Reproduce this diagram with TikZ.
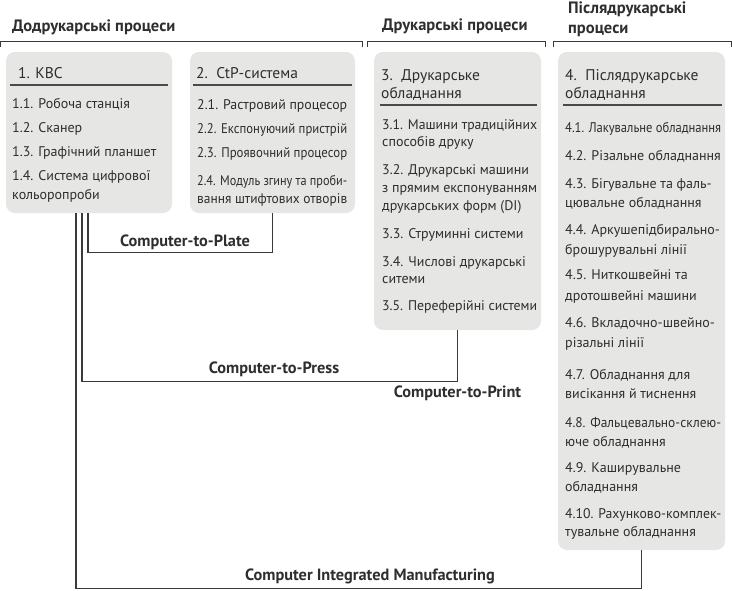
\documentclass[tikz,border=0pt]{standalone}
\usepackage{fontspec}
\setmainfont{PT Sans}
\definecolor{boxfill}{HTML}{E6E6E5}
\definecolor{txt}{HTML}{2E2E2E}
\definecolor{linec}{HTML}{3A3A3A}
\definecolor{rulec}{HTML}{4A4A4A}
\newsavebox\fitbox
\newcommand\fitto[2]{\sbox\fitbox{#2}\pgfmathsetmacro\fitr{min(1,#1/\wd\fitbox)}\scalebox{\fitr}[1]{\usebox\fitbox}}
\newcommand\myitem[5]{\node[itm] (#1) at (#2,#3) {\fitto{#4}{#5}};}
\begin{document}
\begin{tikzpicture}[x=1pt,y=-1pt,
  box/.style={rectangle, rounded corners=9pt, fill=boxfill, draw=none, inner sep=0pt},
  itm/.style={anchor=base west, inner sep=0pt, text=txt, font=\fontsize{14}{17}\selectfont},
  ttl/.style={itm, font=\fontsize{15.5}{18}\selectfont},
  hdr/.style={anchor=base west, inner sep=0pt, text=txt, font=\bfseries\fontsize{16.5}{19}\selectfont},
  lab/.style={anchor=base, inner sep=0pt, text=txt, font=\bfseries\fontsize{16.3}{19}\selectfont},
  conn/.style={draw=linec, line width=1.3pt},
  sep/.style={draw=rulec, line width=1.2pt},
  brk/.style={draw=linec, line width=1pt}]
\useasboundingbox (0,0) rectangle (732,590);

% headers
\node[hdr] (h1) at (12,31) {Додрукарські процеси};
\node[hdr] (h2) at (382,30) {Друкарські процеси};
\node[hdr] (h3a) at (568,13) {Післядрукарські};
\node[hdr] (h3b) at (568,33) {процеси};
\draw[brk] (0.5,47) -- (0.5,41) -- (362,41) -- (362,47);
\draw[brk] (367,47) -- (367,41) -- (545,41) -- (545,47);
\draw[brk] (553,47) -- (553,41) -- (731,41) -- (731,47);

% boxes
\node[box, minimum width=166pt, minimum height=161pt] (box1) at (89,132.5) {};
\node[box, minimum width=165pt, minimum height=161pt] (box2) at (272.5,132.5) {};
\node[box, minimum width=167pt, minimum height=278pt] (box3) at (457.5,191) {};
\node[box, minimum width=167pt, minimum height=498pt] (box4) at (641.5,301) {};

% box 1
\node[ttl] (t1) at (18,78) {1. КВС};
\draw[sep] (10,85) -- (168,85);
\myitem{i11}{12}{108}{156}{1.1. Робоча станція}
\myitem{i12}{12}{132}{156}{1.2. Сканер}
\myitem{i13}{12}{156}{156}{1.3. Графічний планшет}
\myitem{i14a}{12}{180}{156}{1.4. Система цифрової}
\myitem{i14b}{12}{199}{156}{кольоропроби}

% box 2
\node[ttl] (t2) at (196,78) {2.\hspace{3pt} CtP-система};
\draw[sep] (193,85) -- (352,85);
\myitem{i21}{197}{109}{150}{2.1. Растровий процесор}
\myitem{i22}{197}{133}{150}{2.2. Експонуючий пристрій}
\myitem{i23}{197}{157}{150}{2.3. Проявочний процесор}
\myitem{i24a}{197}{185}{150}{2.4. Модуль згину та проби-}
\myitem{i24b}{197}{203}{150}{вання штифтових отворів}

% box 3
\node[ttl] (t3a) at (381,80) {3.\hspace{3pt} Друкарське};
\node[ttl] (t3b) at (381,98) {обладнання};
\draw[sep] (380,105) -- (537,105);
\myitem{i31a}{382}{129}{155}{3.1. Машини традиційних}
\myitem{i31b}{382}{146}{155}{способів друку}
\myitem{i32a}{382}{174}{155}{3.2. Друкарські машини}
\myitem{i32b}{382}{192}{155}{з прямим експонуванням}
\myitem{i32c}{382}{210}{155}{друкарських форм (DI)}
\myitem{i33}{382}{238}{155}{3.3. Струминні системи}
\myitem{i34a}{382}{266}{155}{3.4. Числові друкарські}
\myitem{i34b}{382}{283}{155}{ситеми}
\myitem{i35}{382}{310}{155}{3.5. Переферійні системи}

% box 4
\node[ttl] (t4a) at (565,80) {4.\hspace{3pt} Післядрукарське};
\node[ttl] (t4b) at (565,98) {обладнання};
\draw[sep] (563,105) -- (722,105);
\myitem{i41}{565}{132}{156}{4.1. Лакувальне обладнання}
\myitem{i42}{565}{160}{156}{4.2. Різальне обладнання}
\myitem{i43a}{565}{188}{156}{4.3. Бігувальне та фаль-}
\myitem{i43b}{565}{207}{156}{цювальне обладнання}
\myitem{i44a}{565}{234}{156}{4.4. Аркушепідбирально-}
\myitem{i44b}{565}{254}{156}{брошурувальні лінії}
\myitem{i45a}{565}{279}{156}{4.5. Ниткошвейні та}
\myitem{i45b}{565}{300}{156}{дротошвейні машини}
\myitem{i46a}{565}{327}{156}{4.6. Вкладочно-швейно-}
\myitem{i46b}{565}{347}{156}{різальні лінії}
\myitem{i47a}{565}{379}{156}{4.7. Обладнання для}
\myitem{i47b}{565}{398}{156}{висікання й тиснення}
\myitem{i48a}{565}{427}{156}{4.8. Фальцевально-склею-}
\myitem{i48b}{565}{446}{156}{юче обладнання}
\myitem{i49a}{565}{472}{156}{4.9. Каширувальне}
\myitem{i49b}{565}{491}{156}{обладнання}
\myitem{i410a}{565}{518}{156}{4.10. Рахунково-комплек-}
\myitem{i410b}{565}{536}{156}{тувальне обладнання}

% connectors
\draw[conn] ([xshift=-1pt]box1.south) -- ++(0,39) -| (box2.south);
\draw[conn] ([xshift=-7pt]box1.south) -- ++(0,168) -| (box3.south);
\draw[conn] ([xshift=-13pt]box1.south) -- ++(0,375) -| (box4.south);

% labels
\node[lab] (lplate) at (185,246) {Computer-to-Plate};
\node[lab] (lpress) at (274,373) {Computer-to-Press};
\node[lab] (lprint) at (457.5,397) {Computer-to-Print};
\node[lab] (lcim) at (370,580) {Computer Integrated Manufacturing};
\end{tikzpicture}
\end{document}
